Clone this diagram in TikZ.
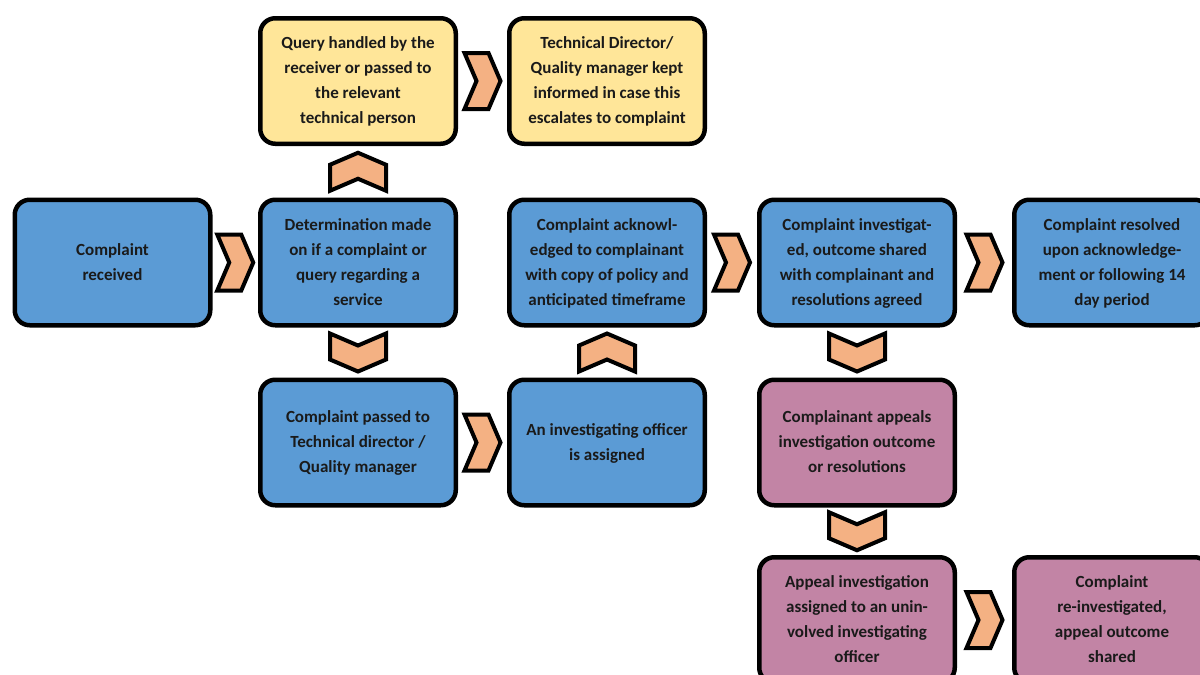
\documentclass[tikz,border=0pt]{standalone}
\usepackage{fontspec}
\setmainfont{Carlito}
\usetikzlibrary{calc}
\definecolor{boxblue}{HTML}{5B9BD5}
\definecolor{boxyellow}{HTML}{FFE699}
\definecolor{boxpink}{HTML}{C284A5}
\definecolor{chevfill}{HTML}{F4B183}
\definecolor{textdark}{HTML}{1A1A1A}
\tikzset{
  box/.style={draw=black, line width=4.5pt, rounded corners=15pt,
    minimum width=195.5pt, minimum height=125.5pt, align=center,
    inner sep=0pt, text=textdark, text depth=1.5pt,
    font=\fontsize{17pt}{25pt}\selectfont\bfseries},
  bluebox/.style={box, fill=boxblue},
  yellowbox/.style={box, fill=boxyellow},
  pinkbox/.style={box, fill=boxpink},
  chev/.style={draw=black, fill=chevfill, line width=4pt, line join=miter},
  chevR/.pic={\path[chev] (-18,-28) -- (6,-28) -- (18,0) -- (6,28) -- (-18,28) -- (-6,0) -- cycle;},
  chevD/.pic={\path[chev] (-28,-19) -- (0,-7) -- (28,-19) -- (28,7) -- (0,19) -- (-28,7) -- cycle;},
  chevU/.pic={\path[chev] (-28,-7) -- (0,-19) -- (28,-7) -- (28,19) -- (0,7) -- (-28,19) -- cycle;}
}
\begin{document}
\begin{tikzpicture}[x=1pt,y=-1pt]
\clip (0,0) rectangle (1200,675);
\fill[white] (0,0) rectangle (1200,675);
% row 1
\node[yellowbox] (qry) at (358,81) {Query handled by the\\receiver or passed to\\the relevant\\technical person};
\node[yellowbox] (tdq) at (607,81) {Technical Director/\\Quality manager kept\\informed in case this\\escalates to complaint};
% row 2
\node[bluebox] (rec) at (112.5,262.5) {Complaint\\received};
\node[bluebox] (det) at (358,262.5) {Determination made\\on if a complaint or\\query regarding a\\service};
\node[bluebox] (ack) at (607,262.5) {Complaint acknowl-\\edged to complainant\\with copy of policy and\\anticipated timeframe};
\node[bluebox] (inv) at (857,262.5) {Complaint investigat-\\ed, outcome shared\\with complainant and\\resolutions agreed};
\node[bluebox] (res) at (1112,262.5) {Complaint resolved\\upon acknowledge-\\ment or following 14\\day period};
% row 3
\node[bluebox] (pas) at (358,442.5) {Complaint passed to\\Technical director /\\Quality manager};
\node[bluebox] (off) at (607,442.5) {An investigating officer\\is assigned};
\node[pinkbox] (app) at (857,442.5) {Complainant appeals\\investigation outcome\\or resolutions};
% row 4
\node[pinkbox] (api) at (857,620) {Appeal investigation\\assigned to an unin-\\volved investigating\\officer};
\node[pinkbox] (rei) at (1112,620) {Complaint\\re-investigated,\\appeal outcome\\shared};
% chevrons
\pic at ($(qry.east)!0.5!(tdq.west)$) {chevR};
\pic at ($(rec.east)!0.5!(det.west)$) {chevR};
\pic at ($(ack.east)!0.5!(inv.west)$) {chevR};
\pic at ($(inv.east)!0.5!(res.west)$) {chevR};
\pic at ($(pas.east)!0.5!(off.west)$) {chevR};
\pic at ($(api.east)!0.5!(rei.west)$) {chevR};
\pic at ($(det.north)!0.5!(qry.south)$) {chevU};
\pic at ($(det.south)!0.5!(pas.north)$) {chevD};
\pic at ($(off.north)!0.5!(ack.south)$) {chevU};
\pic at ($(inv.south)!0.5!(app.north)$) {chevD};
\pic at ($(app.south)!0.5!(api.north)$) {chevD};
\end{tikzpicture}
\end{document}
